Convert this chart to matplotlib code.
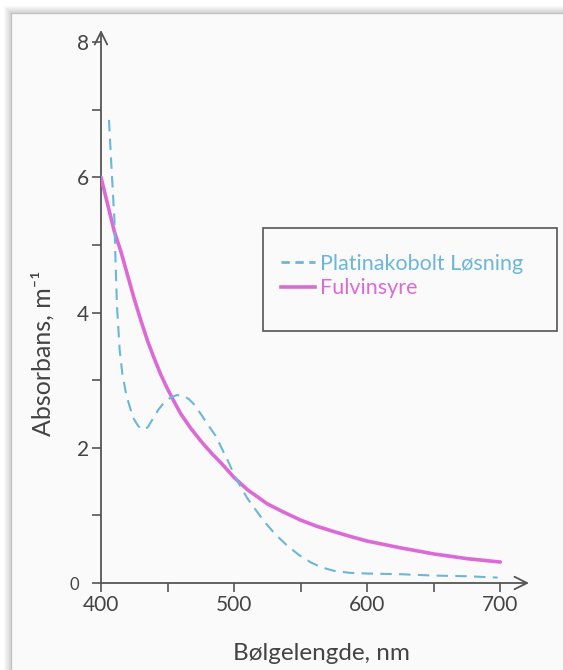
import matplotlib
matplotlib.use('Agg')
import matplotlib.pyplot as plt
from matplotlib.patches import Rectangle
from matplotlib.lines import Line2D
from matplotlib.transforms import ScaledTranslation

# ---- data ----
wl_platina = [406, 408, 410, 411, 412, 414, 416, 419, 424, 428, 431, 435, 439, 443, 447,
              452, 457, 462, 466, 470, 475, 480, 486, 491, 496, 500, 505, 510, 517, 523,
              531, 540, 549, 558, 566, 575, 587, 600, 625, 650, 675, 698]
abs_platina = [6.85, 6.1, 5.4, 4.7, 4.1, 3.45, 3.1, 2.78, 2.45, 2.32, 2.27, 2.3, 2.43, 2.56, 2.66,
               2.74, 2.78, 2.77, 2.72, 2.64, 2.5, 2.35, 2.18, 1.98, 1.78, 1.6, 1.42, 1.25, 1.06, 0.9,
               0.72, 0.55, 0.41, 0.3, 0.23, 0.18, 0.15, 0.14, 0.13, 0.11, 0.1, 0.08]
wl_fulvin = [400, 405, 410, 415, 420, 425, 430, 435, 440, 445, 450, 455, 460, 467, 475,
             483, 490, 500, 510, 525, 537, 550, 562, 575, 587, 600, 625, 650, 675, 700]
abs_fulvin = [6.0, 5.6, 5.2, 4.9, 4.55, 4.2, 3.88, 3.58, 3.32, 3.08, 2.87, 2.68, 2.5, 2.3, 2.1,
              1.92, 1.78, 1.56, 1.38, 1.17, 1.05, 0.93, 0.84, 0.76, 0.69, 0.62, 0.52, 0.43, 0.36, 0.31]
x_ticks = [400, 450, 500, 550, 600, 650, 700]
x_ticklabels = ['400', '', '500', '', '600', '', '700']
y_ticks = [0, 1, 2, 3, 4, 5, 6, 7, 8]
y_ticklabels = ['0', '', '2', '', '4', '', '6', '', '8']
series_labels = ['Platinakobolt Løsning', 'Fulvinsyre']
x_label = 'Bølgelengde, nm'
y_label = 'Absorbans, m⁻¹'

# ---- style ----
W, H = 563, 670
FAM = ['Lato', 'DejaVu Sans']
plt.rcParams['font.family'] = FAM
TXT = '#444444'
AX = '#555555'
BLUE = '#6cb6d8'
MAG = '#dc6ad6'

fig = plt.figure(figsize=(W / 100, H / 100), dpi=100)
fig.patch.set_facecolor('white')

# card with soft shadow
for i in range(7, 0, -1):
    fig.patches.append(Rectangle(((11 - i) / W, -0.1), 1.2, (H - 13 + i) / H + 0.1,
                                 transform=fig.transFigure, fc='#000000', ec='none',
                                 alpha=0.025, zorder=-10))
fig.patches.append(Rectangle((11 / W, -0.1), 1.2, (H - 13) / H + 0.1,
                             transform=fig.transFigure, fc='#fafafa', ec='#c4c4c4',
                             lw=1, zorder=-9))

ax = fig.add_axes([101 / W, (H - 583) / H, (529 - 101) / W, (583 - 30) / H])
ax.set_zorder(2)
ax.patch.set_visible(False)
ax.set_xlim(400, 721.5)
ax.set_ylim(0, 8.18)
for s in ax.spines.values():
    s.set_visible(False)

arrow = dict(arrowstyle='->,head_width=0.45,head_length=0.9', color=AX, lw=1.3,
             shrinkA=0, shrinkB=0)
ax.annotate('', xy=(1, 0), xytext=(0, 0), xycoords='axes fraction', arrowprops=arrow,
            annotation_clip=False)
ax.annotate('', xy=(0, 1), xytext=(0, 0), xycoords='axes fraction', arrowprops=arrow,
            annotation_clip=False)

ax.set_xticks(x_ticks)
ax.set_xticklabels(x_ticklabels)
ax.set_yticks(y_ticks)
ax.set_yticklabels(y_ticklabels)
ax.tick_params(axis='both', direction='out', length=6.5, width=1.2, color=AX,
               labelcolor=TXT, labelsize=15)
ax.tick_params(axis='y', pad=2)
ax.tick_params(axis='x', pad=2)
zl = ax.get_yticklabels()[0]
zl.set_fontsize(12)
zl.set_transform(zl.get_transform() + ScaledTranslation(-10 / 100, 0, fig.dpi_scale_trans))

ax.plot(wl_fulvin, abs_fulvin, color=MAG, lw=2.6, solid_capstyle='round', zorder=3)
lp, = ax.plot(wl_platina, abs_platina, color=BLUE, lw=1.5, zorder=4)
lp.set_dashes([5.5, 3.5])

# legend box
fig.patches.append(Rectangle((263 / W, (H - 331) / H), (557 - 263) / W, (331 - 228) / H,
                             transform=fig.transFigure, fill=False, ec=AX, lw=1.2, zorder=5))
h1 = Line2D([], [], color=BLUE, lw=2, dashes=[3, 2])
h2 = Line2D([], [], color=MAG, lw=2.6)
fig.legend([h1, h2], series_labels, loc='center left',
           bbox_to_anchor=(281 / W, (H - 276) / H), frameon=False, labelcolor='linecolor',
           handlelength=1.6, handletextpad=0.2, labelspacing=0.2, fontsize=15.5,
           borderpad=0, borderaxespad=0)

fig.text(321 / W, (H - 654) / H, x_label, ha='center', va='center', color=TXT, fontsize=17.5)
fig.text(43 / W, (H - 353) / H, y_label, ha='center', va='center', rotation=90,
         color=TXT, fontsize=18, family=FAM)

fig.savefig('out.png', dpi=100, facecolor=fig.get_facecolor())
